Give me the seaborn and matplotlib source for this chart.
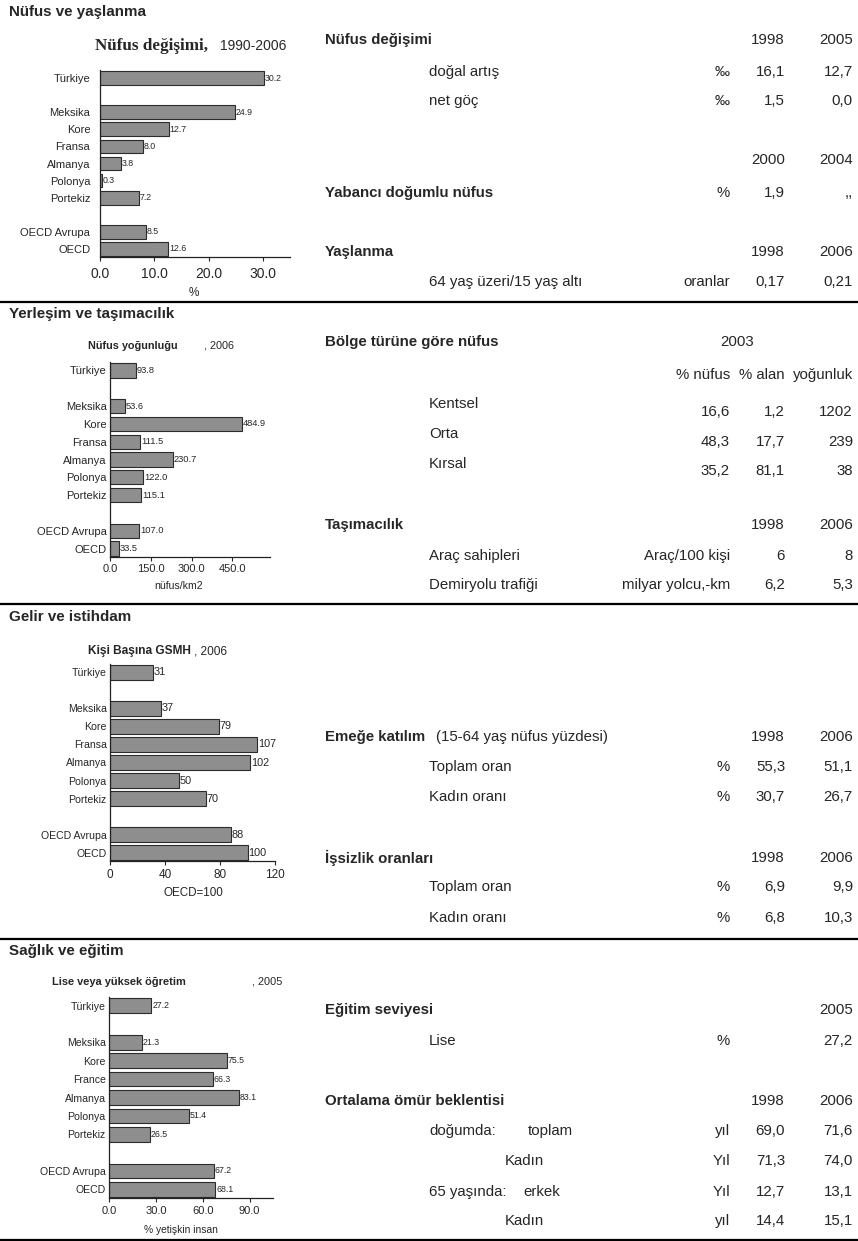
import numpy as np
import pandas as pd
import matplotlib
matplotlib.use('Agg')
import matplotlib.pyplot as plt
import seaborn as sns

# chart data
countries = ['Türkiye', '', 'Meksika', 'Kore', 'Fransa', 'Almanya', 'Polonya', 'Portekiz', ' ', 'OECD Avrupa', 'OECD']
countries_edu = ['Türkiye', '', 'Meksika', 'Kore', 'France', 'Almanya', 'Polonya', 'Portekiz', ' ', 'OECD Avrupa', 'OECD']
pop_change = [30.2, np.nan, 24.9, 12.7, 8.0, 3.8, 0.3, 7.2, np.nan, 8.5, 12.6]
pop_density = [93.8, np.nan, 53.6, 484.9, 111.5, 230.7, 122.0, 115.1, np.nan, 107.0, 33.5]
gni_per_capita = [31, np.nan, 37, 79, 107, 102, 50, 70, np.nan, 88, 100]
upper_secondary = [27.2, np.nan, 21.3, 75.5, 66.3, 83.1, 51.4, 26.5, np.nan, 67.2, 68.1]

ticks_pop = [0, 10, 20, 30]
ticks_density = [0, 150, 300, 450]
ticks_gni = [0, 40, 80, 120]
ticks_edu = [0, 30, 60, 90]

# table data (label, unit, first year, second year)
sections = ['Nüfus ve yaşlanma', 'Yerleşim ve taşımacılık', 'Gelir ve istihdam', 'Sağlık ve eğitim']
pop_years = ['1998', '2005']
pop_rows = [('doğal artış', '‰', '16,1', '12,7'), ('net göç', '‰', '1,5', '0,0')]
foreign_years = ['2000', '2004']
foreign_row = ('Yabancı doğumlu nüfus', '%', '1,9', ',,')
ageing_years = ['1998', '2006']
ageing_row = ('64 yaş üzeri/15 yaş altı', 'oranlar', '0,17', '0,21')
region_year = '2003'
region_cols = ['% nüfus', '% alan', 'yoğunluk']
region_rows = [('Kentsel', '16,6', '1,2', '1202'), ('Orta', '48,3', '17,7', '239'), ('Kırsal', '35,2', '81,1', '38')]
transport_years = ['1998', '2006']
transport_rows = [('Araç sahipleri', 'Araç/100 kişi', '6', '8'),
                  ('Demiryolu trafiği', 'milyar yolcu,-km', '6,2', '5,3')]
labour_years = ['1998', '2006']
labour_rows = [('Toplam oran', '%', '55,3', '51,1'), ('Kadın oranı', '%', '30,7', '26,7')]
unemp_years = ['1998', '2006']
unemp_rows = [('Toplam oran', '%', '6,9', '9,9'), ('Kadın oranı', '%', '6,8', '10,3')]
edu_year = '2005'
edu_row = ('Lise', '%', '', '27,2')
life_years = ['1998', '2006']
life_rows = [('doğumda:', 'toplam', 'yıl', '69,0', '71,6'),
             ('', 'Kadın', 'Yıl', '71,3', '74,0'),
             ('65 yaşında:', 'erkek', 'Yıl', '12,7', '13,1'),
             ('', 'Kadın', 'yıl', '14,4', '15,1')]

W, H = 858, 1241
BAR = '#8e8e8e'
EDGE = '#2b2b2b'
SANS = ['Liberation Sans', 'DejaVu Sans']
TS = 10.8

sns.set_style('white')
plt.rcParams['font.family'] = SANS

fig = plt.figure(figsize=(W / 100, H / 100), dpi=100)


def txt(x, y, s, ha='left', bold=False, size=None, family=None):
    fig.text(x / W, 1 - y / H, s, ha=ha, va='center', fontsize=size or TS,
             fontweight='bold' if bold else 'normal', family=family or SANS)


def bar_chart(box, labels, values, xmax, ticks, tick_fmt, val_fmt,
              label_size, tick_size, val_size, ypad, xpad):
    left, top, right, bottom = box
    ax = fig.add_axes([left / W, 1 - bottom / H, (right - left) / W, (bottom - top) / H])
    df = pd.DataFrame({'country': labels, 'value': values}).dropna()
    sns.barplot(data=df, x='value', y='country', order=labels, orient='h',
                color=BAR, saturation=1, edgecolor=EDGE, linewidth=0.8,
                width=0.8, ax=ax)
    ax.bar_label(ax.containers[0], fmt=val_fmt, padding=0.5, fontsize=val_size)
    ax.set_xlim(0, xmax)
    ax.set_ylim(10.47, -0.47)
    ax.set_xticks(ticks)
    ax.set_xticklabels([tick_fmt % t for t in ticks])
    ax.set_xlabel('')
    ax.set_ylabel('')
    ax.set_facecolor('none')
    for side in ['top', 'right']:
        ax.spines[side].set_visible(False)
    for side in ['left', 'bottom']:
        ax.spines[side].set_color('#222222')
        ax.spines[side].set_linewidth(0.9)
    ax.tick_params(axis='y', length=0, pad=ypad, labelsize=label_size)
    ax.tick_params(axis='x', length=3, width=0.8, direction='out', pad=xpad,
                   labelsize=tick_size, bottom=True)
    return ax


# left charts
bar_chart((100, 70, 290, 257), countries, pop_change, 35, ticks_pop, '%.1f', '%.1f', 8, 10, 6.3, 7, 4)
bar_chart((110, 362, 270, 557), countries, pop_density, 588, ticks_density, '%.1f', '%.1f', 8, 8, 6.7, 2.5, 2)
bar_chart((110, 664, 275, 861), countries, gni_per_capita, 120, ticks_gni, '%d', '%d', 7.6, 8.5, 7.8, 2.5, 3)
bar_chart((109, 997, 273, 1198), countries_edu, upper_secondary, 105, ticks_edu, '%.1f', '%.1f', 7.6, 8, 6.3, 2.5, 3)

# chart titles and axis names
txt(95, 46, 'Nüfus değişimi,', bold=True, size=12.3, family=['Liberation Serif', 'DejaVu Serif'])
txt(220, 46, '1990-2006', size=10)
txt(88, 346, 'Nüfus yoğunluğu', bold=True, size=7.8)
txt(204, 346, ', 2006', size=7.8)
txt(88, 651, 'Kişi Başına GSMH', bold=True, size=8.6)
txt(194, 651, ', 2006', size=8.6)
txt(52, 982, 'Lise veya yüksek öğretim', bold=True, size=7.9)
txt(252, 982, ', 2005', size=7.9)
txt(194, 293, '%', ha='center', size=8.5)
txt(179, 586, 'nüfus/km2', ha='center', size=7.6)
txt(193, 893, 'OECD=100', ha='center', size=8.4)
txt(181, 1230, '% yetişkin insan', ha='center', size=7.4)

# section headers and separator lines
for name, y in zip(sections, [12, 314, 617, 951]):
    txt(9, y, name, bold=True, size=10.9)
for y in [301.5, 604, 939, 1240]:
    fig.add_artist(plt.Line2D([0, 1], [1 - y / H, 1 - y / H], color='black', lw=1.6))

# right-hand table
HX, LX, UX, C1, C2 = 325, 429, 730, 785, 853


def values_row(y, unit, v1, v2):
    txt(UX, y, unit, ha='right')
    txt(C1, y, v1, ha='right')
    txt(C2, y, v2, ha='right')


txt(HX, 40, 'Nüfus değişimi', bold=True)
values_row(40, '', *pop_years)
for (lab, unit, v1, v2), y in zip(pop_rows, [72, 101]):
    txt(LX, y, lab)
    values_row(y, unit, v1, v2)
values_row(160, '', *foreign_years)
txt(HX, 193, foreign_row[0], bold=True)
values_row(193, *foreign_row[1:])
txt(HX, 252, 'Yaşlanma', bold=True)
values_row(252, '', *ageing_years)
txt(LX, 282, ageing_row[0])
values_row(282, *ageing_row[1:])

txt(HX, 342, 'Bölge türüne göre nüfus', bold=True)
txt(737, 342, region_year, ha='center')
values_row(375, *region_cols)
for (lab, a, b, c), yl, yv in zip(region_rows, [404, 434, 464], [412, 442, 471]):
    txt(LX, yl, lab)
    values_row(yv, a, b, c)
txt(HX, 525, 'Taşımacılık', bold=True)
values_row(525, '', *transport_years)
for (lab, unit, v1, v2), y in zip(transport_rows, [556, 585]):
    txt(LX, y, lab)
    values_row(y, unit, v1, v2)

txt(HX, 737, 'Emeğe katılım', bold=True)
txt(436, 737, '(15-64 yaş nüfus yüzdesi)')
values_row(737, '', *labour_years)
for (lab, unit, v1, v2), y in zip(labour_rows, [767, 797]):
    txt(LX, y, lab)
    values_row(y, unit, v1, v2)
txt(HX, 858, 'İşsizlik oranları', bold=True)
values_row(858, '', *unemp_years)
for (lab, unit, v1, v2), y in zip(unemp_rows, [887, 918]):
    txt(LX, y, lab)
    values_row(y, unit, v1, v2)

txt(HX, 1010, 'Eğitim seviyesi', bold=True)
values_row(1010, '', '', edu_year)
txt(LX, 1041, edu_row[0])
values_row(1041, *edu_row[1:])
txt(HX, 1101, 'Ortalama ömür beklentisi', bold=True)
values_row(1101, '', *life_years)
for (lab, sub, unit, v1, v2), y, sx in zip(life_rows, [1131, 1161, 1192, 1221], [528, 505, 523, 505]):
    if lab:
        txt(LX, y, lab)
    txt(sx, y, sub)
    values_row(y, unit, v1, v2)

fig.savefig('out.png', dpi=100)
